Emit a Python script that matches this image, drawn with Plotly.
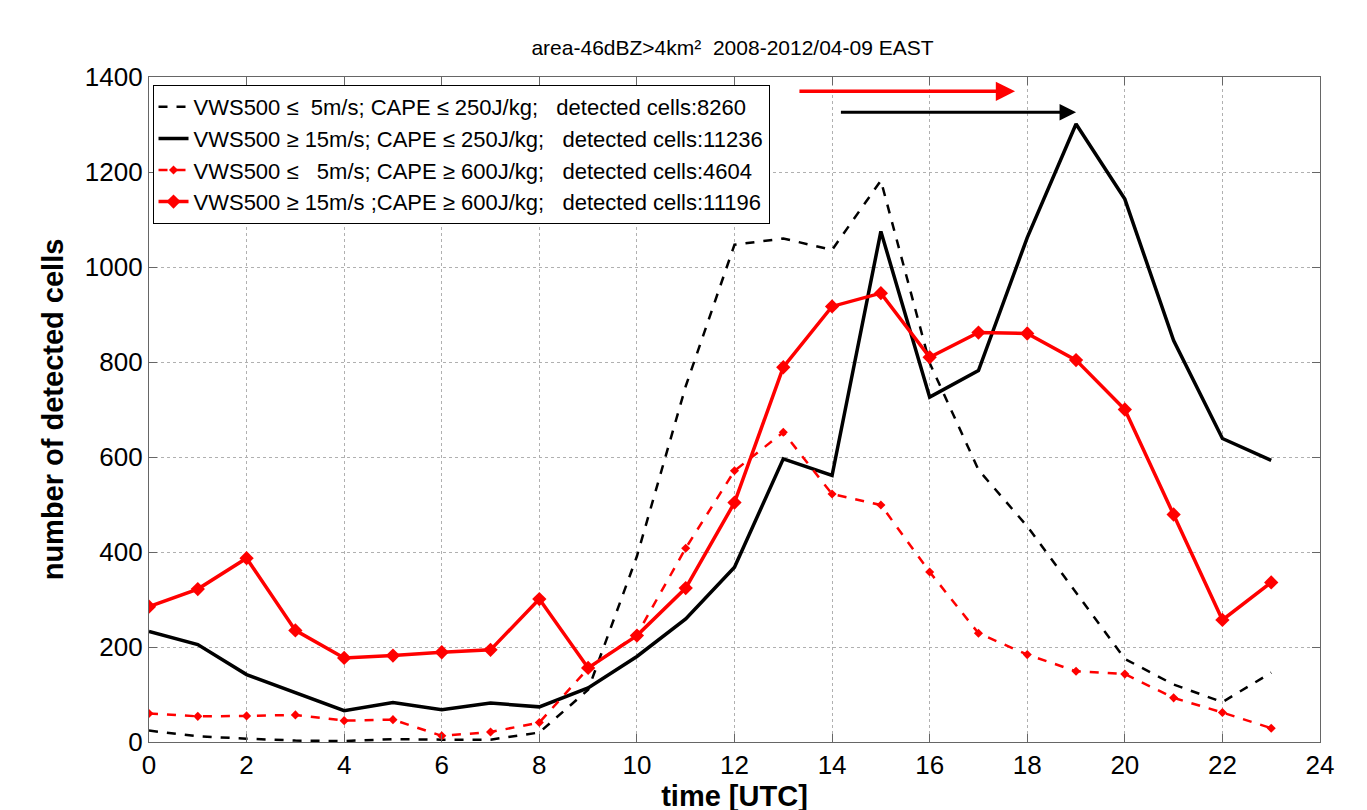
import plotly.graph_objects as go

hours = list(range(24))

black_dash = [24, 12, 7, 3, 2, 6, 5, 5, 20, 110, 391, 749, 1047, 1060, 1036, 1182,
              798, 573, 454, 314, 175, 121, 84, 146]
black_solid = [233, 205, 142, 104, 66, 83, 68, 82, 74, 114, 180, 259, 368, 596, 561, 1075,
               726, 782, 1062, 1301, 1143, 845, 639, 593]
red_dash = [60, 54, 55, 57, 45, 47, 13, 21, 41, 155, 226, 408, 571, 652, 522, 499,
            358, 229, 184, 149, 143, 93, 62, 29]
red_solid = [285, 322, 387, 235, 177, 182, 189, 194, 301, 156, 224, 324, 504, 789, 917, 945,
             810, 862, 860, 804, 700, 479, 257, 336]

names = [
    "VWS500 \u2264\u00a0\u00a05m/s; CAPE \u2264 250J/kg;\u00a0\u00a0\u00a0detected cells:8260",
    "VWS500 \u2265 15m/s; CAPE \u2264 250J/kg;\u00a0\u00a0\u00a0detected cells:11236",
    "VWS500 \u2264\u00a0\u00a0\u00a05m/s; CAPE \u2265 600J/kg;\u00a0\u00a0\u00a0detected cells:4604",
    "VWS500 \u2265 15m/s ;CAPE \u2265 600J/kg;\u00a0\u00a0\u00a0detected cells:11196",
]

title_text = "area-46dBZ>4km\u00b2\u00a0\u00a02008-2012/04-09 EAST"
x_ticks = list(range(0, 25, 2))
y_ticks = list(range(0, 1401, 200))

# arrows (start hour, end hour, level)
red_arrow = (13.3, 17.75, 1370)
black_arrow = (14.15, 19.0, 1326)

FONT = "Liberation Sans, Arial, Helvetica, sans-serif"

fig = go.Figure()
fig.add_trace(go.Scatter(x=hours, y=black_dash, mode="lines", name=names[0],
                         line=dict(color="black", width=2.5, dash="dash")))
fig.add_trace(go.Scatter(x=hours, y=black_solid, mode="lines", name=names[1],
                         line=dict(color="black", width=3.5)))
fig.add_trace(go.Scatter(x=hours, y=red_dash, mode="lines+markers", name=names[2],
                         line=dict(color="red", width=2.5, dash="dash"),
                         marker=dict(symbol="diamond", size=7, color="red")))
fig.add_trace(go.Scatter(x=hours, y=red_solid, mode="lines+markers", name=names[3],
                         line=dict(color="red", width=3.5),
                         marker=dict(symbol="diamond", size=11, color="red")))

for (x0, x1, yv), col in [(red_arrow, "red"), (black_arrow, "black")]:
    fig.add_annotation(x=x1, y=yv, ax=x0, ay=yv, xref="x", yref="y", axref="x", ayref="y",
                       text="", showarrow=True, arrowhead=2, arrowsize=1.1,
                       arrowwidth=3.5 if col == "red" else 3, arrowcolor=col)

axis_common = dict(showline=True, linecolor="#666666", linewidth=1.2, mirror="ticks",
                   ticks="inside", ticklen=8, tickcolor="#666666",
                   showgrid=True, gridcolor="#b0b0b0", griddash="dot", gridwidth=1,
                   zeroline=False, automargin=False,
                   tickfont=dict(family=FONT, size=26, color="black"))

fig.update_xaxes(range=[0, 24], tickvals=x_ticks,
                 title=dict(text="<b>time [UTC]</b>", font=dict(family=FONT, size=29, color="black"),
                            standoff=6),
                 **axis_common)
fig.update_yaxes(range=[0, 1400], tickvals=y_ticks,
                 title=dict(text="<b>number of detected cells</b>",
                            font=dict(family=FONT, size=29, color="black"), standoff=12),
                 **axis_common)

fig.update_layout(
    width=1367, height=810,
    margin=dict(l=141, r=55, t=69, b=76),
    paper_bgcolor="white", plot_bgcolor="white",
    title=dict(text=title_text, x=0.530, xanchor="center", y=1 - 40 / 810, yanchor="middle",
               font=dict(family=FONT, size=21, color="black")),
    legend=dict(x=0.003, y=0.988, xanchor="left", yanchor="top",
                bgcolor="white", bordercolor="black", borderwidth=1,
                font=dict(family=FONT, size=22, color="black"),
                itemwidth=30),
    showlegend=True,
)

fig.write_html("out.html")
